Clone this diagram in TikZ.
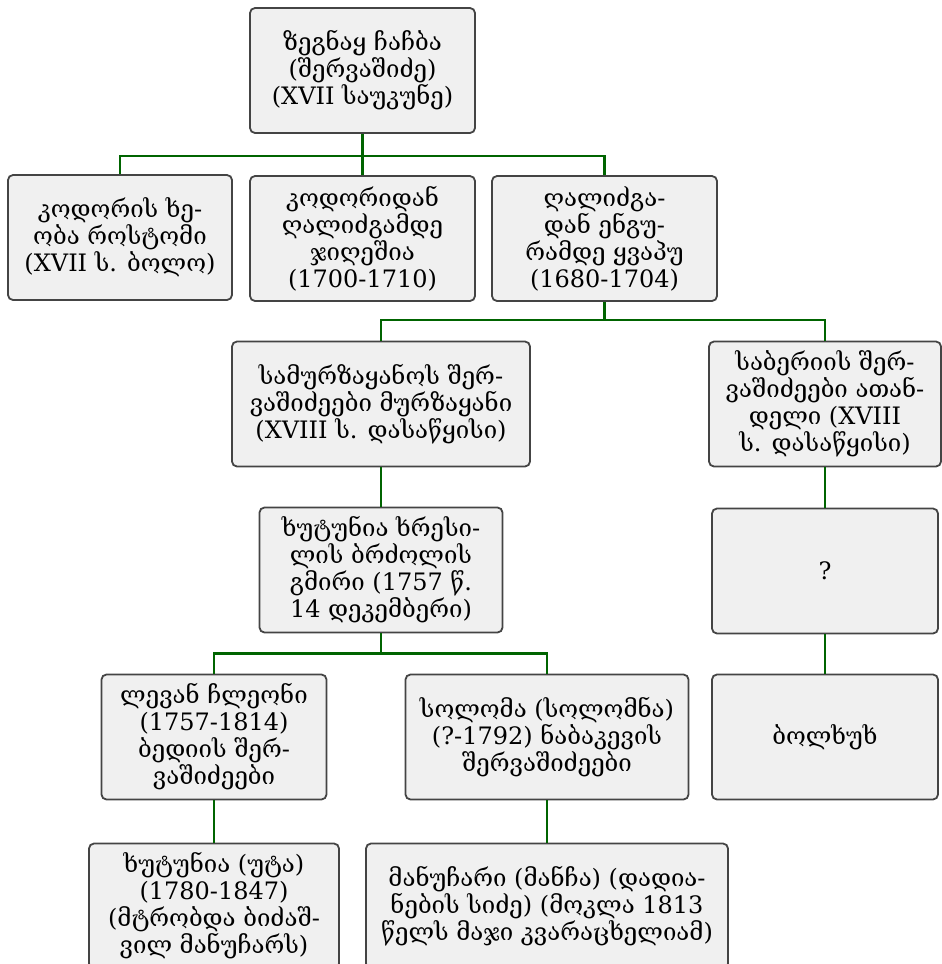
\documentclass[tikz,border=0pt]{standalone}
\usepackage{fontspec}
\setmainfont{DejaVu Serif}
\definecolor{boxfill}{HTML}{F0F0F0}
\definecolor{boxline}{HTML}{444444}
\definecolor{linkgreen}{HTML}{006400}
\begin{document}
\begin{tikzpicture}[x=1pt,y=-1pt,
  box/.style={draw=boxline,fill=boxfill,rounded corners=5pt,line width=1.8pt,
    align=center,inner sep=0pt,minimum height=125pt,
    font=\fontsize{24}{27}\selectfont},
  link/.style={draw=linkgreen,line width=2.2pt}]
\useasboundingbox (0,0) rectangle (942,964);
% generation 1
\node[box,minimum width=225pt] (top) at (362.5,70.5){ზეგნაყ ჩაჩბა\\(შერვაშიძე)\\(XVII საუკუნე)};
% generation 2
\node[box,minimum width=224pt] (kodori) at (120,237.5){კოდორის ხე-\\ობა როსტომი\\(XVII ს. ბოლო)};
\node[box,minimum width=225pt] (jighesh) at (362.5,238.5){კოდორიდან\\ღალიძგამდე\\ჯიღეშია\\(1700-1710)};
\node[box,minimum width=225pt] (kvapu) at (604.5,238.5){ღალიძგა-\\დან ენგუ-\\რამდე ყვაპუ\\(1680-1704)};
% generation 3
\node[box,minimum width=298pt] (murz) at (381,404){სამურზაყანოს შერ-\\ვაშიძეები მურზაყანი\\(XVIII ს. დასაწყისი)};
\node[box,minimum width=232pt] (saber) at (825,404){საბერიის შერ-\\ვაშიძეები ათან-\\დელი (XVIII\\ს. დასაწყისი)};
% generation 4
\node[box,minimum width=243pt] (khut) at (381,570){ხუტუნია ხრესი-\\ლის ბრძოლის\\გმირი (1757 წ.\\14 დეკემბერი)};
\node[box,minimum width=226pt] (unkn) at (825,571){?};
% generation 5
\node[box,minimum width=225pt] (levan) at (214,737){ლევან ჩლეონი\\(1757-1814)\\ბედიის შერ-\\ვაშიძეები};
\node[box,minimum width=283pt] (solom) at (547,737){სოლომა (სოლომნა)\\(?-1792) ნაბაკევის\\შერვაშიძეები};
\node[box,minimum width=226pt] (bolkh) at (825,737){ბოლხუხ};
% generation 6
\node[box,minimum width=250pt] (uta) at (214,906){ხუტუნია (უტა)\\(1780-1847)\\(მტრობდა ბიძაშ-\\ვილ მანუჩარს)};
\node[box,minimum width=362pt] (manu) at (547,906){მანუჩარი (მანჩა) (დადია-\\ნების სიძე) (მოკლა 1813\\წელს მაჯი კვარაცხელიამ)};
% links
\draw[link] (top.south) -- ++(0,22) coordinate (fork1) -- (jighesh.north);
\draw[link] (kodori.north) |- (fork1) -| (kvapu.north);
\draw[link] (kvapu.south) -- ++(0,18) coordinate (fork2);
\draw[link] (murz.north) |- (fork2) -| (saber.north);
\draw[link] (murz.south) -- (khut.north);
\draw[link] (khut.south) -- ++(0,20) coordinate (fork3);
\draw[link] (levan.north) |- (fork3) -| (solom.north);
\draw[link] (saber.south) -- (unkn.north);
\draw[link] (unkn.south) -- (bolkh.north);
\draw[link] (levan.south) -- (uta.north);
\draw[link] (solom.south) -- (manu.north);
\end{tikzpicture}
\end{document}
